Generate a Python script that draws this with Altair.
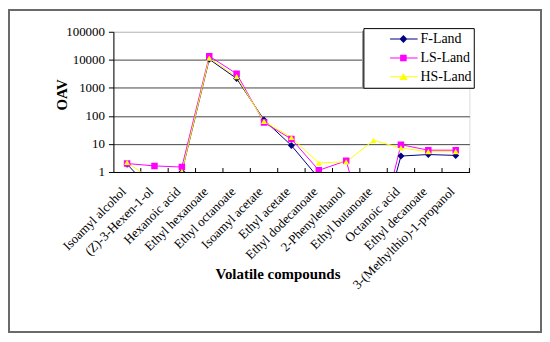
import altair as alt
import pandas as pd

categories = ["Isoamyl alcohol", "(Z)-3-Hexen-1-ol", "Hexanoic acid", "Ethyl hexanoate",
              "Ethyl octanoate", "Isoamyl acetate", "Ethyl acetate", "Ethyl dodecanoate",
              "2-Phenylethanol", "Ethyl butanoate", "Octanoic acid", "Ethyl decanoate",
              "3-(Methylthio)-1-propanol"]
series = ["F-Land", "LS-Land", "HS-Land"]
f_land = [1.9, 0.17, 1.0, 10500, 2150, 72, 8.8, 0.6, 0.5, 0.001, 3.7, 4.2, 3.9]
ls_land = [2.0, 1.65, 1.5, 13500, 3200, 58, 15, 1.15, 2.5, 0.001, 9.4, 6.0, 6.0]
hs_land = [2.2, 0.45, 1.05, 11500, 2500, 64, 17, 2.1, 2.3, 13.4, 7.2, 5.3, 5.3]
colors = ["#000080", "#FF00FF", "#FFFF00"]
y_ticks = [1, 10, 100, 1000, 10000, 100000]

rows = []
for s, vals in zip(series, [f_land, ls_land, hs_land]):
    for i, (c, v) in enumerate(zip(categories, vals)):
        rows.append({"compound": c, "series": s, "OAV": v, "idx": i})
df = pd.DataFrame(rows)
cat_df = pd.DataFrame({"compound": categories})
one = pd.DataFrame({"a": [0]})

W, H = 358, 141
step = W / len(categories)
FONT = "'Times New Roman', 'Liberation Serif', 'DejaVu Serif', serif"

x_axis = alt.Axis(title="Volatile compounds", labelAngle=-45, labelFontSize=13,
                  ticks=False, labelPadding=13, labelOffset=-8, labelOverlap=False,
                  labelLimit=0, titleFontSize=15, titleX=165, titleY=107,
                  titleBaseline="alphabetic", titleAnchor="middle", grid=False)
x_scale = alt.Scale(type="point", domain=categories, padding=0.5)
x_enc = alt.X("compound:N", scale=x_scale, axis=x_axis)
y_enc = alt.Y("OAV:Q",
              scale=alt.Scale(type="log", domain=[1, 100000]),
              axis=alt.Axis(title="OAV", values=y_ticks, format="d", labelFontSize=13,
                            tickSize=5, labelPadding=4,
                            gridColor={"condition": {"test": "datum.value == 100000", "value": "#bbbbbb"},
                                       "value": "#444444"},
                            titleFontSize=15, titleAngle=270, titleX=-47, titleY=63,
                            titleBaseline="alphabetic", titleAlign="center"))

color_scale = alt.Scale(domain=series, range=colors)

frame = alt.Chart(one).mark_rect(filled=False, stroke="#6a6a6a", strokeWidth=2).encode(
    x=alt.value(-105), x2=alt.value(430), y=alt.value(-22), y2=alt.value(302))

shadow = alt.Chart(one).mark_rect(fill="#9a9a9a").encode(
    x=alt.value(250), x2=alt.value(362.5), y=alt.value(-1), y2=alt.value(57.5))

ticks = alt.Chart(cat_df).mark_rule(color="black", xOffset=step / 2).encode(
    x=x_enc, y=alt.value(H - 4), y2=alt.value(H))

lines = alt.Chart(df).mark_line(strokeWidth=1, clip=True).encode(
    x=x_enc, y=y_enc,
    color=alt.Color("series:N", scale=color_scale, legend=None),
    order="idx:Q")

shape_scale = alt.Scale(domain=series, range=["diamond", "square", "triangle-up"])
points = alt.Chart(df).mark_point(filled=True, opacity=1, clip=True).encode(
    x=x_enc, y=y_enc,
    color=alt.Color("series:N", scale=color_scale, legend=None),
    shape=alt.Shape("series:N", scale=shape_scale, legend=None),
    size=alt.Size("series:N", scale=alt.Scale(domain=series, range=[49, 36, 60]), legend=None))

line_part = "M0.15,-0.023H1.41V0.023H0.15Z"
paths = [
    line_part + " M0.76,-0.18L0.94,0L0.76,0.18L0.58,0Z",
    line_part + " M0.61,-0.15H0.91V0.15H0.61Z",
    line_part + " M0.76,-0.17L0.95,0.15H0.57Z",
]
leg = alt.Legend(title=None, orient="none", legendX=251.4, legendY=-3.7,
                 strokeColor="black", fillColor="white", padding=1.5,
                 symbolSize=1936, symbolStrokeWidth=0, clipHeight=19, rowPadding=0,
                 labelFont=FONT, labelFontSize=14, labelColor="black", labelOffset=12,
                 labelExpr="datum.label + '\u00a0\u00a0'", symbolOpacity=1)
legend_layer = alt.Chart(df).transform_filter("false").mark_point(
    filled=True, opacity=1, size=1936).encode(
    x=x_enc, y=y_enc,
    color=alt.Color("series:N", scale=color_scale, legend=leg),
    shape=alt.Shape("series:N", scale=alt.Scale(domain=series, range=paths), legend=leg))

chart = alt.layer(frame, shadow, ticks, lines, points, legend_layer).resolve_scale(
    color="independent", shape="independent", size="independent"
).properties(
    width=W, height=H,
    padding={"left": 106, "top": 23, "right": 73, "bottom": 162},
    autosize=alt.AutoSizeParams(type="none"),
).configure_view(stroke=None).configure(background="white").configure_axis(
    labelFont=FONT, titleFont=FONT, labelColor="black", titleColor="black",
    titleFontWeight="bold", domainColor="black", tickColor="black"
).configure_legend(labelFont=FONT)

chart.save("out.html", embed_options={"renderer": "svg", "actions": False})
